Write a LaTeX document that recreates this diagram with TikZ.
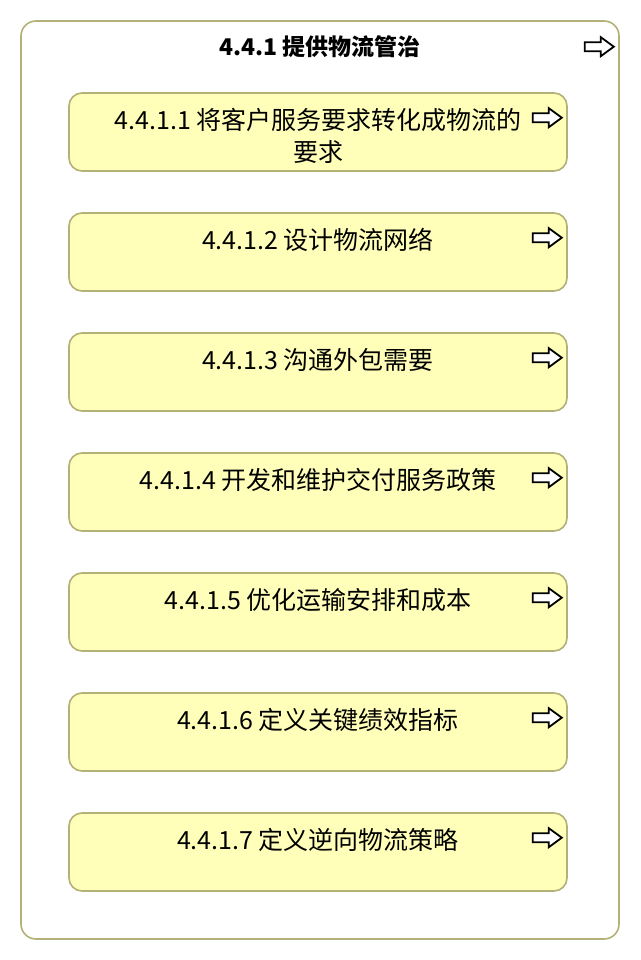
\documentclass[tikz,border=0pt]{standalone}
\usepackage{fontspec}
\setmainfont{Noto Sans CJK SC}
\usetikzlibrary{positioning}
\definecolor{boxline}{RGB}{178,178,120}
\definecolor{boxfill}{RGB}{255,255,186}
\tikzset{
  groupbox/.style={draw=boxline, line width=1.6pt, rounded corners=15pt, fill=white,
    minimum width=598pt, minimum height=918pt, inner sep=0pt},
  taskbox/.style={draw=boxline, line width=1.6pt, rounded corners=13pt, fill=boxfill,
    minimum width=498pt, minimum height=78pt, inner sep=0pt},
  tasktext/.style={font=\fontsize{25pt}{32pt}\selectfont, align=center, inner sep=0pt},
  grouptext/.style={font=\fontsize{23pt}{28pt}\selectfont\bfseries, inner sep=0pt},
  procarrow/.pic={\draw[line width=1.8pt, line join=miter, fill=white]
    (0,-4.5) -- (16,-4.5) -- (16,-9.5) -- (29,0) -- (16,9.5) -- (16,4.5) -- (0,4.5) -- cycle;}
}
\begin{document}
\begin{tikzpicture}[x=1pt,y=-1pt]
\useasboundingbox (0,0) rectangle (640,960);

\node[groupbox] (g) at (320,480) {};
\node[grouptext, anchor=base] (gt) at ([yshift=-35pt]g.north) {4.4.1 提供物流管治};
\pic at ([xshift=-35pt,yshift=-26.5pt]g.north east) {procarrow};

\node[taskbox] (t1) at (318,132) {};
\node[taskbox] (t2) at (318,252) {};
\node[taskbox] (t3) at (318,372) {};
\node[taskbox] (t4) at (318,492) {};
\node[taskbox] (t5) at (318,612) {};
\node[taskbox] (t6) at (318,732) {};
\node[taskbox] (t7) at (318,852) {};

% two lines: base is the last line
\node[tasktext, anchor=base] (l1) at ([yshift=-69.5pt]t1.north) {4.4.1.1 将客户服务要求转化成物流的\\要求};
\node[tasktext, anchor=base] (l2) at ([yshift=-37.5pt]t2.north) {4.4.1.2 设计物流网络};
\node[tasktext, anchor=base] (l3) at ([yshift=-37.5pt]t3.north) {4.4.1.3 沟通外包需要};
\node[tasktext, anchor=base] (l4) at ([yshift=-37.5pt]t4.north) {4.4.1.4 开发和维护交付服务政策};
\node[tasktext, anchor=base] (l5) at ([yshift=-37.5pt]t5.north) {4.4.1.5 优化运输安排和成本};
\node[tasktext, anchor=base] (l6) at ([yshift=-37.5pt]t6.north) {4.4.1.6 定义关键绩效指标};
\node[tasktext, anchor=base] (l7) at ([yshift=-37.5pt]t7.north) {4.4.1.7 定义逆向物流策略};

\pic at ([xshift=-35pt,yshift=-25.5pt]t1.north east) {procarrow};
\pic at ([xshift=-35pt,yshift=-25.5pt]t2.north east) {procarrow};
\pic at ([xshift=-35pt,yshift=-25.5pt]t3.north east) {procarrow};
\pic at ([xshift=-35pt,yshift=-25.5pt]t4.north east) {procarrow};
\pic at ([xshift=-35pt,yshift=-25.5pt]t5.north east) {procarrow};
\pic at ([xshift=-35pt,yshift=-25.5pt]t6.north east) {procarrow};
\pic at ([xshift=-35pt,yshift=-25.5pt]t7.north east) {procarrow};
\end{tikzpicture}
\end{document}
